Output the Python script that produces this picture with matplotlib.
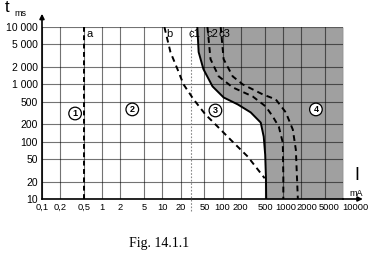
import matplotlib
matplotlib.use("Agg")
import matplotlib.pyplot as plt
from matplotlib.ticker import NullLocator
from matplotlib.transforms import ScaledTranslation

plt.rcParams['font.family'] = ['Liberation Sans', 'DejaVu Sans']

# axis ticks
x_ticks = [0.1, 0.2, 0.5, 1, 2, 5, 10, 20, 50, 100, 200, 500, 1000, 2000, 5000, 10000]
x_labels = ["0,1", "0,2", "0,5", "1", "2", "5", "10", "20", "50", "100", "200",
            "500", "1000", "2000", "5000", "10000"]
y_ticks = [10, 20, 50, 100, 200, 500, 1000, 2000, 5000, 10000]
y_labels = ["10", "20", "50", "100", "200", "500", "1 000", "2 000", "5 000", "10 000"]

# curves (current mA, time ms)
a_I = [0.5, 0.5]
a_t = [10, 10000]

b_I = [10.8, 11.2, 13.6, 17.8, 22.4, 33, 52, 71, 136, 261, 500]
b_t = [10000, 8500, 3650, 1840, 1000, 546, 297, 215, 108, 55, 23]

c1_I = [38, 40, 48, 68, 104, 178, 293, 430, 482, 510, 525, 530]
c1_t = [10000, 3650, 1840, 920, 590, 447, 324, 215, 122, 59, 24, 10]

c2_I = [56, 63, 86, 147, 316, 521, 681, 858, 1000, 1020, 1020]
c2_t = [10000, 2750, 1380, 885, 615, 411, 275, 183, 96, 24, 10]

c3_I = [93, 104, 147, 215, 464, 764, 1122, 1468, 1648, 1778]
c3_t = [10000, 2750, 1380, 1000, 668, 546, 324, 162, 72, 10]

rcd_I = [30, 30]
rcd_t = [6.2, 10000]

# curve labels and zone numbers
curve_names = ["a", "b", "c1", "c2", "c3"]
curve_name_I = [0.55, 11.5, 27, 53, 85]
curve_name_t = [7600, 7600, 7600, 7600, 7600]

zones = ["1", "2", "3", "4"]
zone_I = [0.355, 3.16, 76, 3550]
zone_t = [310, 365, 350, 365]

fig = plt.figure(figsize=(3.75, 2.58), dpi=100)
ax = fig.add_axes([42 / 375, 59 / 258, 301 / 375, 172 / 258])
ax.set_xscale('log')
ax.set_yscale('log')
ax.set_xlim(0.1, 10000)
ax.set_ylim(10, 10000)

ax.set_xticks(x_ticks)
ax.set_xticklabels(x_labels)
ax.set_yticks(y_ticks)
ax.set_yticklabels(y_labels)
ax.xaxis.set_minor_locator(NullLocator())
ax.yaxis.set_minor_locator(NullLocator())
ax.tick_params(length=0, pad=3, labelsize=7.5)
ax.tick_params(axis='x', labelsize=6.7)

# the last x labels sit a bit to the right of their grid lines in the original
shifts = {"500": 1, "1000": 3, "2000": 6, "5000": 4, "10000": 12}
for lab in ax.get_xticklabels():
    dx = shifts.get(lab.get_text(), 0)
    if dx:
        lab.set_transform(lab.get_transform() + ScaledTranslation(dx / 100, 0, fig.dpi_scale_trans))

ax.grid(True, color='black', alpha=0.55, lw=0.8)
ax.set_axisbelow(False)

for s in ['top', 'right']:
    ax.spines[s].set_visible(False)
for s in ['left', 'bottom']:
    ax.spines[s].set_linewidth(1.2)

# shaded zone 4
ax.fill_betweenx(c1_t, c1_I, 10000, color='#a0a0a0', lw=0, zorder=1)

ax.plot(rcd_I, rcd_t, color='#888888', lw=0.8, ls=(0, (1.5, 1.5)), clip_on=False, zorder=3)
ax.plot(a_I, a_t, color='black', lw=1.4, ls=(0, (2.5, 1.8)), zorder=3)
ax.plot(b_I, b_t, color='black', lw=1.4, ls=(0, (3, 2.2)), zorder=3)
ax.plot(c1_I, c1_t, color='black', lw=1.4, zorder=3)
ax.plot(c2_I, c2_t, color='black', lw=1.4, ls=(0, (3, 2.2)), zorder=3)
ax.plot(c3_I, c3_t, color='black', lw=1.4, ls=(0, (3, 2.2)), zorder=3)

for name, xi, ti in zip(curve_names, curve_name_I, curve_name_t):
    ax.text(xi, ti, name, fontsize=8, ha='left', va='center', zorder=4)

for z, xi, ti in zip(zones, zone_I, zone_t):
    ax.text(xi, ti, z, fontsize=6.5, fontweight='bold', ha='center', va='center', zorder=4,
            bbox=dict(boxstyle='circle,pad=0.2', fc='white', ec='black', lw=0.9))

# axis arrows
ax.annotate('', xy=(0, 1.093), xytext=(0, 0.99), xycoords='axes fraction',
            arrowprops=dict(arrowstyle='-|>', lw=1.2, color='black', mutation_scale=7),
            annotation_clip=False)
ax.annotate('', xy=(1.075, 0), xytext=(0.99, 0), xycoords='axes fraction',
            arrowprops=dict(arrowstyle='-|>', lw=1.2, color='black', mutation_scale=7),
            annotation_clip=False)

# axis titles
fig.text(5 / 375, 1 - 8 / 258, "t", fontsize=12, va='center', ha='left')
fig.text(14 / 375, 1 - 13 / 258, "ms", fontsize=6.5, va='center', ha='left')
fig.text(357 / 375, 1 - 176 / 258, "I", fontsize=13, va='center', ha='center')
fig.text(356 / 375, 1 - 193 / 258, "mA", fontsize=6.5, va='center', ha='center')

fig.text(159 / 375, 1 - 243 / 258, "Fig. 14.1.1", fontsize=10, family='Liberation Serif',
         va='center', ha='center')

fig.savefig('out.png', dpi=100)
